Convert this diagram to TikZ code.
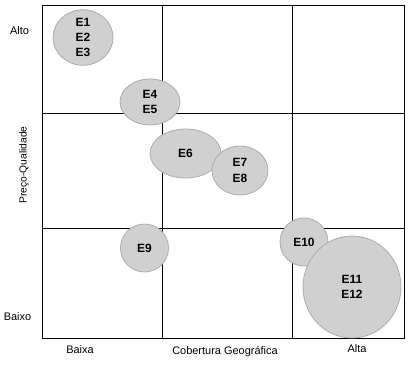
\documentclass[tikz,border=0pt]{standalone}
\usepackage{fontspec}
\setmainfont{Liberation Sans}
\usetikzlibrary{shapes.geometric}
\definecolor{blobfill}{RGB}{208,208,208}
\definecolor{blobline}{RGB}{172,172,172}
\tikzset{
  blob/.style={ellipse, fill=blobfill, draw=blobline, line width=0.8bp, inner sep=0pt,
    align=center, font=\fontsize{12}{15.5}\selectfont\bfseries},
  axislbl/.style={inner sep=0pt, font=\fontsize{11}{13}\selectfont},
  gridline/.style={line width=0.9bp, draw=black}
}
\begin{document}
\begin{tikzpicture}[x=1bp,y=-1bp]
\useasboundingbox (0,0) rectangle (411,366);
% grid
\coordinate (tl) at (42,5);
\coordinate (br) at (404,338);
\draw[gridline] (tl) rectangle (br);
\coordinate (v1t) at (162,5); \coordinate (v1b) at (162,338);
\coordinate (v2t) at (292,5); \coordinate (v2b) at (292,338);
\coordinate (h1l) at (42,113); \coordinate (h1r) at (404,113);
\coordinate (h2l) at (42,228); \coordinate (h2r) at (404,228);
\draw[gridline] (v1t) -- (v1b);
\draw[gridline] (v2t) -- (v2b);
\draw[gridline] (h1l) -- (h1r);
\draw[gridline] (h2l) -- (h2r);
% bubbles
\node[blob, minimum width=60bp, minimum height=47bp] (e13) at (83,37.5) {E1\\E2\\E3};
\node[blob, minimum width=60bp, minimum height=46bp] (e45) at (150,102) {E4\\E5};
\node[blob, minimum width=71bp, minimum height=49bp] (e6) at (185.5,153.5) {E6};
\node[blob, minimum width=56bp, minimum height=49bp] (e78) at (240,170.5) {E7\\E8};
\node[blob, minimum width=48bp, minimum height=48bp] (e9) at (144.5,248) {E9};
\node[blob, minimum width=48bp, minimum height=48bp] (e10) at (304,242) {E10};
\node[blob, minimum width=98bp, minimum height=102bp] (e1112) at (352,287) {E11\\E12};
% axis labels
\node[axislbl] (alto) at (19.5,31) {Alto};
\node[axislbl] (baixo) at (17.5,317) {Baixo};
\node[axislbl] (baixa) at (80,350) {Baixa};
\node[axislbl] (cob) at (225,352) {Cobertura Geográfica};
\node[axislbl] (alta) at (357,349) {Alta};
\node[axislbl, rotate=90, font=\fontsize{10.3}{12}\selectfont] (pq) at (24,165) {Preço-Qualidade};
\end{tikzpicture}
\end{document}
